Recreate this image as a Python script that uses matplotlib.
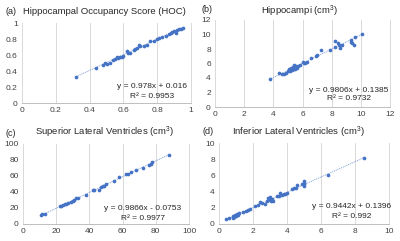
import numpy as np
import matplotlib
matplotlib.use("Agg")
import matplotlib.pyplot as plt

plt.rcParams['font.family'] = ['Liberation Sans', 'DejaVu Sans']
plt.rcParams['mathtext.fontset'] = 'custom'
plt.rcParams['mathtext.rm'] = 'Liberation Sans'

W, H = 400, 241

# (a) Hippocampal Occupancy Score
hoc_x = [0.32, 0.44, 0.48, 0.49, 0.50, 0.52, 0.54, 0.55, 0.56, 0.57, 0.58, 0.59, 0.60,
         0.62, 0.63, 0.64, 0.66, 0.67, 0.68, 0.69, 0.70, 0.72, 0.74, 0.76, 0.78, 0.80,
         0.81, 0.83, 0.85, 0.87, 0.88, 0.89, 0.90, 0.91, 0.92, 0.93, 0.94, 0.95]
hoc_y = [0.33, 0.44, 0.48, 0.50, 0.49, 0.50, 0.54, 0.55, 0.57, 0.56, 0.58, 0.58, 0.59,
         0.65, 0.63, 0.62, 0.66, 0.68, 0.69, 0.72, 0.71, 0.71, 0.73, 0.78, 0.78, 0.80,
         0.81, 0.83, 0.84, 0.86, 0.88, 0.89, 0.90, 0.88, 0.91, 0.92, 0.93, 0.94]

# (b) Hippocampi
hip_x = [3.75, 4.4, 4.6, 4.7, 4.9, 5.0, 5.1, 5.15, 5.2, 5.3, 5.35, 5.4, 5.45, 5.5, 5.55,
         5.6, 5.7, 5.8, 6.0, 6.1, 6.2, 6.3, 6.6, 6.9, 7.0, 7.3, 7.9, 8.2, 8.25, 8.4, 8.5,
         8.6, 8.7, 9.3, 9.35, 9.4, 9.55, 9.6, 10.1]
hip_y = [3.8, 4.7, 4.6, 4.6, 4.7, 4.9, 5.3, 5.0, 5.4, 5.1, 5.5, 5.2, 5.8, 5.3, 5.6,
         5.4, 5.7, 5.8, 6.2, 6.0, 6.1, 6.2, 6.7, 7.0, 7.2, 7.8, 7.9, 8.3, 9.1, 8.8, 8.5,
         8.2, 8.6, 9.0, 9.3, 8.8, 8.6, 9.7, 10.0]

# (c) Superior Lateral Ventricles
slv_x = [11, 11.5, 13, 22, 23, 24, 25, 26, 27, 29, 30, 31, 32, 33, 38, 42, 43, 46, 47,
         48, 49, 50, 55, 58, 62, 63, 65, 68, 72, 76, 77, 78, 88]
slv_y = [11, 13, 13, 22, 23, 24, 24.5, 25, 26, 28, 29, 30, 32, 33, 36, 42, 43, 43, 46,
         47, 48, 50, 54, 59, 62, 63, 65, 68, 70, 74, 75, 78, 86]

# (d) Inferior Lateral Ventricles
ilv_x = [0.4, 0.6, 0.8, 0.85, 0.9, 0.95, 1.0, 1.05, 1.1, 1.2, 1.4, 1.6, 1.7, 1.8, 2.1,
         2.3, 2.4, 2.5, 2.7, 2.8, 2.9, 3.0, 3.0, 3.05, 3.1, 3.2, 3.4, 3.5, 3.6, 3.7, 3.8,
         3.9, 4.0, 4.3, 4.4, 4.5, 4.6, 4.9, 5.0, 5.0, 5.0, 5.0, 6.4, 8.5]
ilv_y = [0.6, 0.7, 0.8, 1.0, 0.9, 1.1, 1.0, 1.2, 1.1, 1.4, 1.5, 1.6, 1.7, 1.9, 2.2,
         2.4, 2.7, 2.6, 2.5, 2.9, 3.2, 3.0, 3.3, 2.8, 3.1, 2.9, 3.4, 3.5, 3.8, 3.6, 3.7,
         3.7, 3.8, 4.3, 4.4, 4.5, 4.8, 4.9, 5.1, 5.3, 4.7, 5.0, 6.0, 8.1]

panels = [
    # x, y, slope, intercept, xmax, xstep, ymax, ystep, title, label, eq, r2
    (hoc_x, hoc_y, 0.978, 0.016, 1, 0.2, 1, 0.2, "Hippocampal Occupancy Score (HOC)", "(a)",
     "y = 0.978x + 0.016", "R\u00b2 = 0.9953"),
    (hip_x, hip_y, 0.9806, 0.1385, 12, 2, 12, 2, "Hippocampi (cm$^3$)", "(b)",
     "y = 0.9806x + 0.1385", "R\u00b2 = 0.9732"),
    (slv_x, slv_y, 0.9866, -0.0753, 100, 20, 100, 20, "Superior Lateral Ventricles (cm$^3$)", "(c)",
     "y = 0.9866x - 0.0753", "R\u00b2 = 0.9977"),
    (ilv_x, ilv_y, 0.9442, 0.1396, 10, 2, 10, 2, "Inferior Lateral Ventricles (cm$^3$)", "(d)",
     "y = 0.9442x + 0.1396", "R\u00b2 = 0.992"),
]

# pixel boxes: left, top, right, bottom
boxes = [(22, 23, 191, 103), (215, 20, 390, 107), (23, 144, 189, 224), (219, 143, 389, 224)]
# title center x, title y, label x, label y, eq center x, eq y, r2 y
texts = [(104, 11, 5, 11, 152, 87, 97),
         (300, 11, 202, 9, 349, 90, 99),
         (105, 132, 5, 133, 143, 208, 218),
         (298, 132, 203, 132, 352, 207, 217)]

blue = "#4472C4"
txt = "#262626"
tick_txt = "#404040"

fig = plt.figure(figsize=(W / 100, H / 100), dpi=100)

def px(x, y):
    return x / W, 1 - y / H

for p, b, t in zip(panels, boxes, texts):
    xs, ys, m, c, xmax, xstep, ymax, ystep, title, lab, eq, r2 = p
    l, top, r, bot = b
    ax = fig.add_axes([l / W, 1 - bot / H, (r - l) / W, (bot - top) / H])
    ax.scatter(xs, ys, s=7, color=blue, zorder=3, linewidths=0)
    xx = np.array([min(xs), max(xs)])
    ax.plot(xx, m * xx + c, color=blue, lw=0.7, ls=(0, (1, 1)), alpha=0.7, zorder=2)
    ax.set_xlim(0, xmax)
    ax.set_ylim(0, ymax)
    ax.set_xticks(np.arange(0, xmax + xstep / 2, xstep))
    ax.set_yticks(np.arange(0, ymax + ystep / 2, ystep))
    fmt = (lambda v: ("%g" % round(v, 2)))
    ax.set_xticklabels([fmt(v) for v in ax.get_xticks()])
    ax.set_yticklabels([fmt(v) for v in ax.get_yticks()])
    ax.grid(axis="x", color="#d9d9d9", lw=0.7)
    for gl in ax.get_xgridlines():
        gl.set_clip_on(False)
    ax.set_axisbelow(True)
    for s in ["top", "right", "left"]:
        ax.spines[s].set_visible(False)
    ax.spines["bottom"].set_color("#bfbfbf")
    ax.spines["bottom"].set_linewidth(0.7)
    ax.tick_params(length=0, labelsize=6, colors=tick_txt, pad=3)
    ax.patch.set_alpha(0)

    tx, ty, lx, ly, ex, ey, ry = t
    fig.text(*px(tx, ty), title, ha="center", va="center", fontsize=6.8, color=txt)
    fig.text(*px(lx, ly), lab, ha="left", va="center", fontsize=6.5, color=txt)
    fig.text(*px(ex, ey), eq, ha="center", va="center", fontsize=6, color=txt)
    fig.text(*px(ex, ry), r2, ha="center", va="center", fontsize=6, color=txt)

fig.savefig("out.png", dpi=100)
